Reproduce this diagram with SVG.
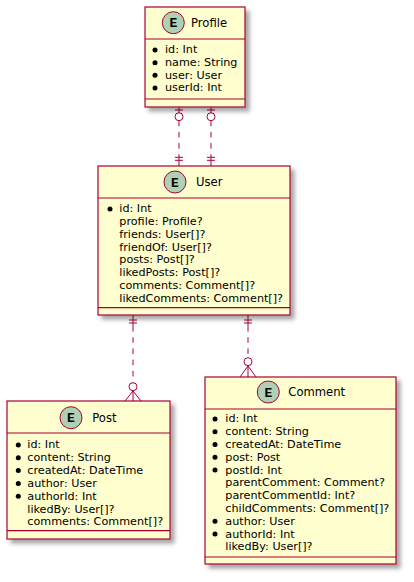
<svg xmlns="http://www.w3.org/2000/svg" width="414" height="582" viewBox="0 0 414 582">
<style>
.box{fill:#FEFECE;stroke:#A80036;stroke-width:1.2}
.sep{stroke:#A80036;stroke-width:1.2}
.ec{fill:#ADD1B2;stroke:#A80036;stroke-width:1}
.el{font-family:"Liberation Mono",monospace;font-weight:bold;font-size:13px;fill:#000;text-anchor:middle}
.t{font-family:"DejaVu Sans",sans-serif;font-size:11.6px;fill:#000}
.f{font-family:"DejaVu Sans",sans-serif;font-size:11.2px;fill:#000}
.b{fill:#000}
.ln{stroke:#A80036;stroke-width:1;fill:none}
.dash{stroke:#A80036;stroke-width:1;fill:none;stroke-dasharray:5.6,5.6}
.cir{stroke:#A80036;stroke-width:1;fill:#FFFFFF}
</style>
<defs>
<filter id="sh" x="-10%" y="-10%" width="130%" height="130%">
<feDropShadow dx="4" dy="4" stdDeviation="2" flood-color="#000" flood-opacity="0.35"/>
</filter>
</defs>
<rect width="414" height="582" fill="#FFFFFF"/>

<g id="connectors">
  <!-- Profile to User left -->
  <path class="ln" d="M179,107 V112.7 M175,110 H183"/>
  <circle class="cir" cx="179" cy="116.7" r="4"/>
  <path class="dash" d="M179,120.7 V155"/>
  <path class="ln" d="M179,155 V166 M175,157.3 H183 M175,160.3 H183"/>
  <!-- Profile to User right -->
  <path class="ln" d="M211,107 V112.7 M207,110 H215"/>
  <circle class="cir" cx="211" cy="116.7" r="4"/>
  <path class="dash" d="M211,120.7 V155"/>
  <path class="ln" d="M211,155 V166 M207,157.3 H215 M207,160.3 H215"/>
  <!-- User to Post -->
  <path class="ln" d="M133,315 V326 M129,320 H137 M129,323 H137"/>
  <path class="dash" d="M133,326 V382.7"/>
  <circle class="cir" cx="133" cy="386.7" r="4"/>
  <path class="ln" d="M133,390.7 V401 M133,391 L125,401 M133,391 L141,401"/>
  <!-- User to Comment -->
  <path class="ln" d="M248,315 V326 M244,320 H252 M244,323 H252"/>
  <path class="dash" d="M248,326 V357.7"/>
  <circle class="cir" cx="248" cy="361.7" r="4"/>
  <path class="ln" d="M248,365.7 V377 M248,366 L240,377 M248,366 L256,377"/>
</g>

<g id="Profile">
  <rect class="box" x="145" y="7" width="100" height="100" filter="url(#sh)"/>
  <circle class="ec" cx="173.3" cy="22.7" r="11"/>
  <text class="el" x="173.3" y="27.3">E</text>
  <text class="t" x="191" y="27">Profile</text>
  <line class="sep" x1="145" y1="39" x2="245" y2="39"/>
  <circle class="b" cx="155" cy="50" r="2.5"/><text class="f" x="165" y="53.4">id: Int</text>
  <circle class="b" cx="155" cy="62.7" r="2.5"/><text class="f" x="165" y="66.1">name: String</text>
  <circle class="b" cx="155" cy="75.3" r="2.5"/><text class="f" x="165" y="78.7">user: User</text>
  <circle class="b" cx="155" cy="88" r="2.5"/><text class="f" x="165" y="91.4">userId: Int</text>
  <line class="sep" x1="145" y1="99" x2="245" y2="99"/>
</g>

<g id="User">
  <rect class="box" x="98" y="166" width="192" height="149" filter="url(#sh)"/>
  <circle class="ec" cx="175" cy="182" r="11"/>
  <text class="el" x="175" y="186.6">E</text>
  <text class="t" x="196" y="186">User</text>
  <line class="sep" x1="98" y1="198" x2="290" y2="198"/>
  <circle class="b" cx="110" cy="208.9" r="2.5"/><text class="f" x="119.3" y="212.3">id: Int</text>
  <text class="f" x="119.3" y="225.1">profile: Profile?</text>
  <text class="f" x="119.3" y="237.8">friends: User[]?</text>
  <text class="f" x="119.3" y="250.6">friendOf: User[]?</text>
  <text class="f" x="119.3" y="263.4">posts: Post[]?</text>
  <text class="f" x="119.3" y="276.2">likedPosts: Post[]?</text>
  <text class="f" x="119.3" y="288.9">comments: Comment[]?</text>
  <text class="f" x="119.3" y="301.7">likedComments: Comment[]?</text>
  <line class="sep" x1="98" y1="307.7" x2="290" y2="307.7"/>
</g>

<g id="Post">
  <rect class="box" x="7" y="401" width="163" height="138" filter="url(#sh)"/>
  <circle class="ec" cx="71" cy="417.7" r="11"/>
  <text class="el" x="71" y="422.3">E</text>
  <text class="t" x="92.3" y="422">Post</text>
  <line class="sep" x1="7" y1="433" x2="170" y2="433"/>
  <circle class="b" cx="18.3" cy="444.9" r="2.5"/><text class="f" x="27.3" y="448.3">id: Int</text>
  <circle class="b" cx="18.3" cy="457.7" r="2.5"/><text class="f" x="27.3" y="461.1">content: String</text>
  <circle class="b" cx="18.3" cy="470.6" r="2.5"/><text class="f" x="27.3" y="474">createdAt: DateTime</text>
  <circle class="b" cx="18.3" cy="483.4" r="2.5"/><text class="f" x="27.3" y="486.8">author: User</text>
  <circle class="b" cx="18.3" cy="496.2" r="2.5"/><text class="f" x="27.3" y="499.6">authorId: Int</text>
  <text class="f" x="27.3" y="512.5">likedBy: User[]?</text>
  <text class="f" x="27.3" y="525.3">comments: Comment[]?</text>
  <line class="sep" x1="7" y1="530.7" x2="170" y2="530.7"/>
</g>

<g id="Comment">
  <rect class="box" x="205" y="377" width="191" height="187" filter="url(#sh)"/>
  <circle class="ec" cx="268.3" cy="392" r="11"/>
  <text class="el" x="268.3" y="396.6">E</text>
  <text class="t" x="288.3" y="396.3">Comment</text>
  <line class="sep" x1="205" y1="409" x2="396" y2="409"/>
  <circle class="b" cx="215" cy="418.9" r="2.5"/><text class="f" x="225.3" y="422.3">id: Int</text>
  <circle class="b" cx="215" cy="431.7" r="2.5"/><text class="f" x="225.3" y="435.1">content: String</text>
  <circle class="b" cx="215" cy="444.5" r="2.5"/><text class="f" x="225.3" y="447.9">createdAt: DateTime</text>
  <circle class="b" cx="215" cy="457.3" r="2.5"/><text class="f" x="225.3" y="460.7">post: Post</text>
  <circle class="b" cx="215" cy="470.1" r="2.5"/><text class="f" x="225.3" y="473.5">postId: Int</text>
  <text class="f" x="225.3" y="486.3">parentComment: Comment?</text>
  <text class="f" x="225.3" y="499.1">parentCommentId: Int?</text>
  <text class="f" x="225.3" y="511.9">childComments: Comment[]?</text>
  <circle class="b" cx="215" cy="521.3" r="2.5"/><text class="f" x="225.3" y="524.7">author: User</text>
  <circle class="b" cx="215" cy="534.1" r="2.5"/><text class="f" x="225.3" y="537.5">authorId: Int</text>
  <text class="f" x="225.3" y="550.3">likedBy: User[]?</text>
  <line class="sep" x1="205" y1="557" x2="396" y2="557"/>
</g>
</svg>
